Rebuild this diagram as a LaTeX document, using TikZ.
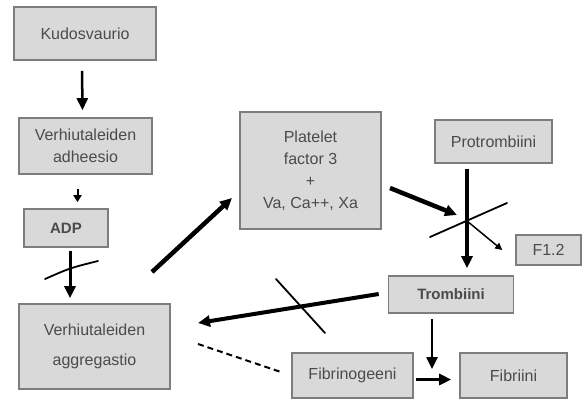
\documentclass[tikz,border=0pt]{standalone}
\usepackage{fontspec}
\setmainfont{Liberation Sans}
\usetikzlibrary{arrows.meta}

\definecolor{boxfill}{RGB}{217,217,217}
\definecolor{boxline}{RGB}{125,125,125}
\definecolor{boxtext}{RGB}{75,75,75}

\tikzset{
  box/.style={draw=boxline, line width=1.6pt, fill=boxfill, text=boxtext,
    align=center, inner sep=0pt, font=\fontsize{16}{22}\selectfont},
  flow/.style={-{Triangle[length=12pt,width=11pt]}, line width=#1},
  flow/.default=3pt,
  cut/.style={line width=1.8pt, line cap=round},
}

\begin{document}
\begin{tikzpicture}[x=1pt,y=-1pt]
    \useasboundingbox[fill=white] (0,0) rectangle (585,401);
    % Boxes
    \node[box, minimum width=142pt, minimum height=53pt] (kudos) at (85,33.5) {Kudosvaurio};
    \node[box, minimum width=133pt, minimum height=56pt] (adh) at (85.5,146) {Verhiutaleiden\\adheesio};
    \node[box, minimum width=84pt, minimum height=38pt, font=\fontsize{15}{22}\bfseries] (adp) at (66,228) {ADP};
    \node[box, minimum width=151pt, minimum height=85pt, font=\fontsize{16}{30}\selectfont] (agg) at (94.5,346.5) {Verhiutaleiden\\aggregastio};
    \node[box, minimum width=141pt, minimum height=117pt] (pf3) at (310.5,170.5) {Platelet\\factor 3\\+\\Va, Ca++, Xa};
    \node[box, minimum width=117pt, minimum height=43pt] (prot) at (493.5,141.5) {Protrombiini};
    \node[box, minimum width=65pt, minimum height=30pt] (f12) at (548.5,250) {F1.2};
    \node[box, minimum width=125pt, minimum height=37pt, font=\fontsize{15}{22}\bfseries] (trom) at (451,294.5) {Trombiini};
    \node[box, minimum width=121pt, minimum height=45pt] (fgen) at (352.5,375.5) {Fibrinogeeni};
    \node[box, minimum width=107pt, minimum height=45pt] (fib) at (513.5,375.5) {Fibriini};
    % Free ends of the connectors
    \coordinate (join) at (467,221);
    \coordinate (pf3in) at (232,198);
    \coordinate (aggin) at (198,323);
    \coordinate (aggout) at (152,272);
    \coordinate (aggdash) at (198,344);
    \coordinate (fibin) at (432,369);
    % Arrows
    \draw[flow=2.5pt, shorten <=10pt, shorten >=7pt] ([xshift=-3pt]kudos.south) -- ([xshift=-3pt]adh.north);
    \draw[-{Triangle[length=7pt,width=8pt]}, line width=2pt, shorten <=14pt, shorten >=6pt] ([xshift=-8pt]adh.south) -- ([xshift=11.5pt]adp.north);
    \draw[flow, shorten <=3pt, shorten >=5pt] ([xshift=4pt]adp.south) -- ([xshift=-24.5pt]agg.north);
    \draw[flow=4.5pt] (aggout) -- (pf3in);
    \draw[flow=4.5pt] (390,188) -- (457,215);
    \draw[flow=4pt, shorten <=5pt, shorten >=7pt] ([xshift=-26.5pt]prot.south) -- ([xshift=16pt]trom.north);
    \draw[-{Triangle[length=7pt,width=7pt]}, line width=1.5pt] (join) -- ([xshift=-13pt]f12.west);
    \draw[flow=4pt] ([xshift=-9pt,yshift=0.5pt]trom.west) -- (aggin);
    \draw[flow=2.5pt, shorten <=5pt] ([xshift=-19pt]trom.south) -- (fibin);
    \draw[flow] ([xshift=2pt,yshift=-4pt]fgen.east) -- ([xshift=-8pt,yshift=-4pt]fib.west);
    \draw[line width=2pt, dash pattern=on 6pt off 4pt, shorten >=10pt] (aggdash) -- (fgen.west);
    % Inhibition marks
    \draw[cut] (45,279) .. controls (70,268) .. (98,261);
    \draw[cut] (430,237) -- (507,203);
    \draw[cut] (276,279) -- (325,333);
\end{tikzpicture}
\end{document}
